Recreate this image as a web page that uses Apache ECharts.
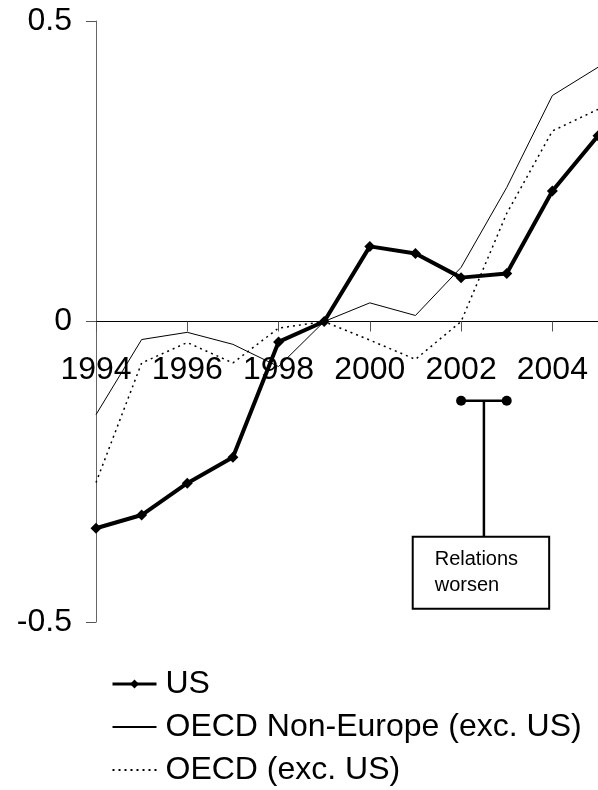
<!DOCTYPE html>
<html>
<head>
<meta charset="utf-8">
<script src="https://cdn.jsdelivr.net/npm/echarts@6/dist/echarts.min.js"></script>
<style>
  html, body { margin: 0; padding: 0; background: #fff; }
  #main { width: 598px; height: 790px; }
</style>
</head>
<body>
<div id="main"></div>
<script>
// values
var years = [1994, 1995, 1996, 1997, 1998, 1999, 2000, 2001, 2002, 2003, 2004, 2005];
var us = [-0.344, -0.322, -0.269, -0.226, -0.034, 0.0, 0.125, 0.113, 0.073, 0.08, 0.217, 0.309];
var nonEurope = [-0.155, -0.030, -0.018, -0.038, -0.075, 0.0, 0.031, 0.010, 0.09, 0.223, 0.376, 0.423];
var oecd = [-0.268, -0.069, -0.035, -0.069, -0.011, 0.0, -0.031, -0.063, 0.0, 0.18, 0.317, 0.353];
var yTicks = [-0.5, 0, 0.5];

// annotation (data coordinates)
var bracket = [[2002, -0.132], [2003, -0.132]];
var bracketStem = [[2002.5, -0.132], [2002.5, -0.358]];
var boxCorners = [[2000.94, -0.358], [2003.93, -0.478]];
var boxText = 'Relations\nworsen';

function pairs(vals) {
  return years.map(function (y, i) { return [y, vals[i]]; });
}

var font = 'Liberation Sans, Arial, sans-serif';
var gridH = 601;
var noSymbol = { color: 'rgba(0,0,0,0)', borderWidth: 0 };
var chart = echarts.init(document.getElementById('main'));

var option = {
  animation: false,
  textStyle: { fontFamily: font },
  grid: { left: 96, top: 21, width: 504, height: gridH },
  legend: {
    orient: 'vertical',
    left: 111,
    top: 668,
    padding: 0,
    itemWidth: 44,
    itemHeight: 11,
    itemGap: 11,
    textStyle: { fontSize: 32, color: '#000', fontFamily: font, padding: [0, 0, 0, 4] },
    data: [
      { name: 'US', lineStyle: { width: 3 } },
      { name: 'OECD Non-Europe (exc. US)', itemStyle: noSymbol },
      { name: 'OECD (exc. US)', itemStyle: noSymbol }
    ]
  },
  xAxis: {
    type: 'value',
    min: 1994,
    max: 2005,
    interval: 2,
    offset: -gridH / 2,
    splitLine: { show: false },
    axisLine: { onZero: false, lineStyle: { color: '#000', width: 1 } },
    axisTick: { show: true, length: 10, lineStyle: { color: '#555' } },
    axisLabel: {
      fontSize: 32, color: '#000', margin: 33, showMaxLabel: false,
      formatter: function (v) { return String(v); }
    }
  },
  yAxis: {
    type: 'value',
    min: yTicks[0],
    max: yTicks[2],
    interval: 0.5,
    splitLine: { show: false },
    axisLine: { show: true, lineStyle: { color: '#666', width: 1 } },
    axisTick: { show: true, length: 10, lineStyle: { color: '#555' } },
    axisLabel: {
      fontSize: 32, color: '#000', margin: 24,
      formatter: function (v) { return v === 0 ? '0' : String(v); }
    }
  },
  series: [
    {
      name: 'OECD Non-Europe (exc. US)',
      type: 'line',
      data: pairs(nonEurope),
      symbol: 'none',
      lineStyle: { color: '#000', width: 1 },
      itemStyle: { color: '#000' },
      z: 2
    },
    {
      name: 'OECD (exc. US)',
      type: 'line',
      data: pairs(oecd),
      symbol: 'none',
      lineStyle: { color: '#000', width: 1.5, type: [2, 4] },
      itemStyle: { color: '#000' },
      z: 2
    },
    {
      name: 'US',
      type: 'line',
      data: pairs(us),
      symbol: 'diamond',
      symbolSize: 11,
      lineStyle: { color: '#000', width: 4 },
      itemStyle: { color: '#000' },
      z: 3
    },
    {
      name: 'bracket',
      type: 'line',
      data: bracket,
      symbol: 'circle',
      symbolSize: 10,
      lineStyle: { color: '#000', width: 2.5 },
      itemStyle: { color: '#000' },
      clip: false,
      z: 4
    },
    {
      name: 'stem',
      type: 'line',
      data: bracketStem,
      symbol: 'none',
      lineStyle: { color: '#000', width: 2.5 },
      clip: false,
      z: 4
    }
  ]
};

chart.setOption(option);

var p1 = chart.convertToPixel({ gridIndex: 0 }, boxCorners[0]);
var p2 = chart.convertToPixel({ gridIndex: 0 }, boxCorners[1]);
chart.setOption({
  graphic: [
    {
      type: 'rect',
      shape: { x: p1[0], y: p1[1], width: p2[0] - p1[0], height: p2[1] - p1[1] },
      style: { fill: '#fff', stroke: '#000', lineWidth: 2 },
      z: 10
    },
    {
      type: 'text',
      style: {
        text: boxText,
        x: p1[0] + 22,
        y: (p1[1] + p2[1]) / 2,
        fill: '#000',
        fontSize: 20,
        fontFamily: font,
        lineHeight: 26,
        verticalAlign: 'middle',
        align: 'left'
      },
      z: 11
    }
  ]
});
</script>
</body>
</html>
